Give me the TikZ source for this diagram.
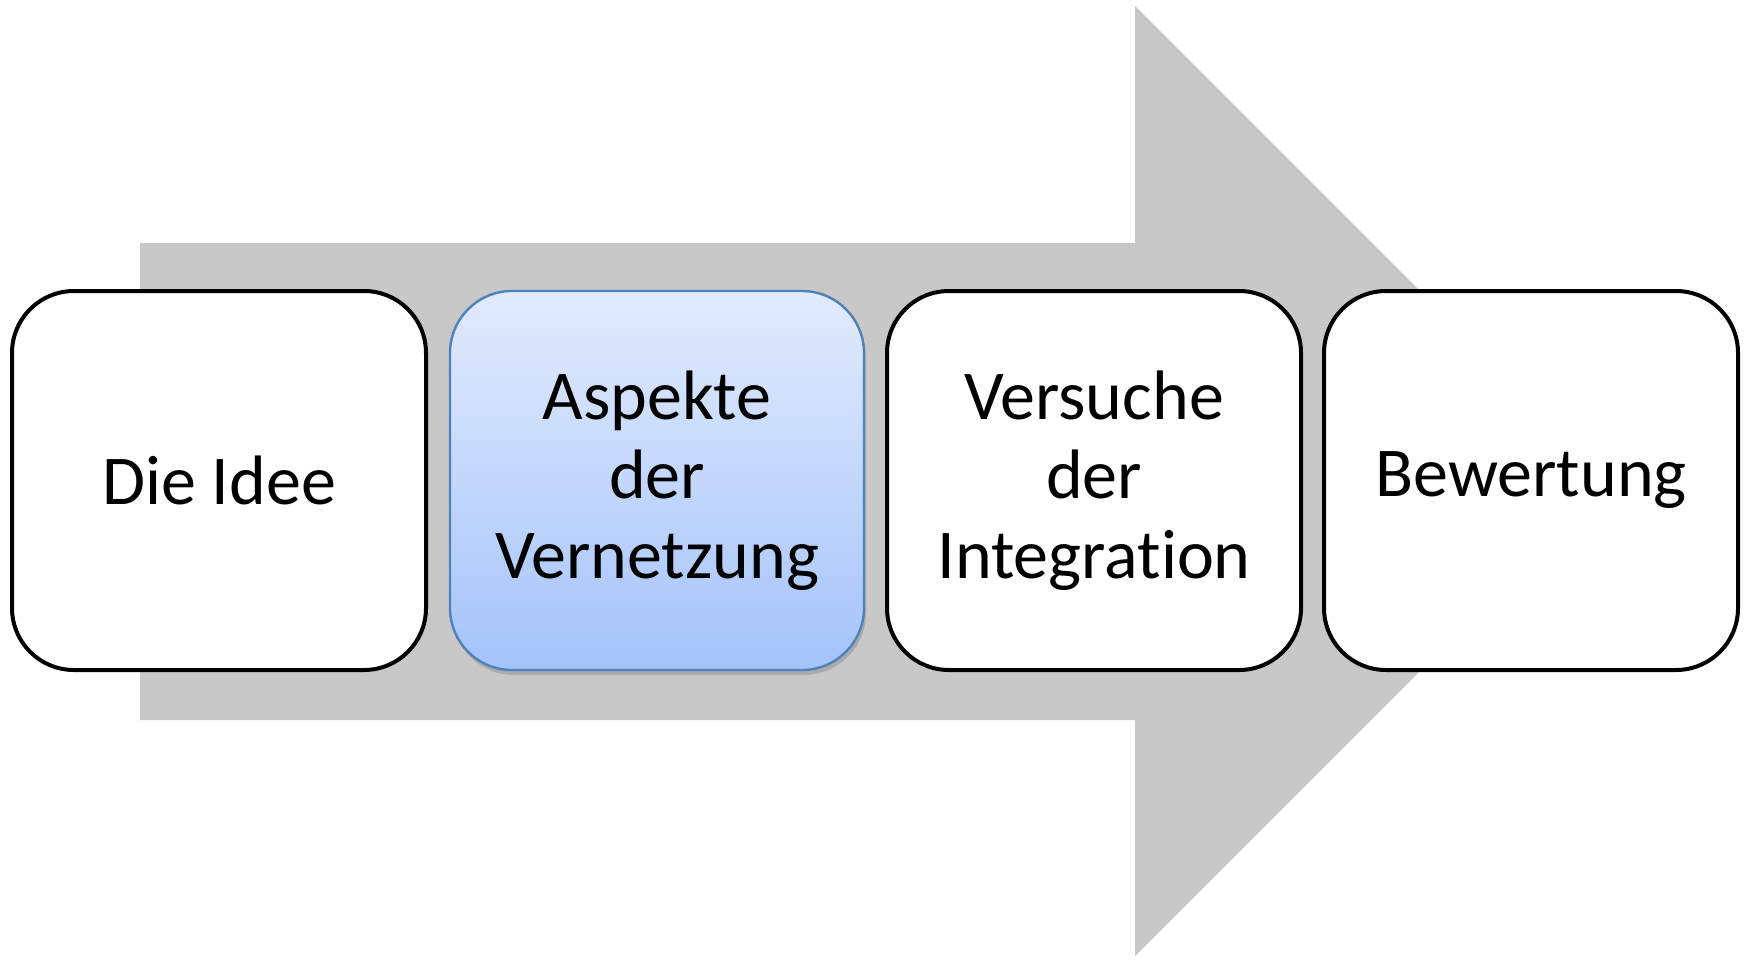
\documentclass[tikz,border=0pt]{standalone}
\usepackage{fontspec}
\setmainfont{Carlito}[Ligatures=NoCommon]
\usetikzlibrary{shadows}
\definecolor{arrowgray}{RGB}{200,200,200}
\definecolor{bluetop}{RGB}{226,235,253}
\definecolor{bluebot}{RGB}{164,195,250}
\definecolor{blueline}{RGB}{79,129,189}
\tikzset{
  stage/.style={draw, line width=2pt, rounded corners=31pt, fill=white,
                minimum width=207pt, minimum height=189.5pt, inner sep=0pt,
                outer sep=0pt, align=center,
                font=\fontsize{35}{39.75}\selectfont},
  current/.style={stage, draw=blueline, line width=1.2pt,
                  top color=bluetop, bottom color=bluebot,
                  drop shadow={opacity=0.4, shadow xshift=1pt, shadow yshift=-2.5pt}}
}
\begin{document}
\begin{tikzpicture}[x=0.5pt, y=-0.5pt]
      \fill [white] (0, 0) rectangle (1749, 959);
      \useasboundingbox (0, 0) rectangle (1749, 959);
      % big arrow behind the stages
      \fill [arrowgray] (140, 243) -- (1135, 243) -- (1135, 6) -- (1610, 481)
                        -- (1135, 956) -- (1135, 720) -- (140, 720) -- cycle;
      \node (idee) [stage] at (219, 480.5) {Die Idee};
      \node (aspekte) [current] at (657, 480.5) {Aspekte\\der\\Vernetzung};
      \node (versuche) [stage] at (1094, 480.5) {Versuche\\der\\Integration};
      \node (bewertung) [stage] at (1531, 480.5) {Bewertung};
\end{tikzpicture}
\end{document}
